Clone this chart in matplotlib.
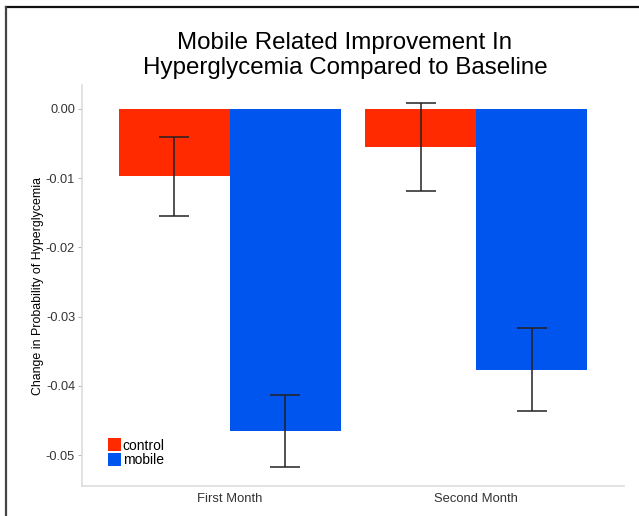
import numpy as np
import matplotlib
matplotlib.use("Agg")
import matplotlib.pyplot as plt
from matplotlib.patches import Patch
from matplotlib.lines import Line2D

plt.rcParams["font.family"] = ["Liberation Sans", "DejaVu Sans"]

# Data
months = ["First Month", "Second Month"]
groups = ["control", "mobile"]
control_mean = [-0.0097, -0.0055]
control_lo = [-0.0155, -0.0119]
control_hi = [-0.0040, 0.0009]
mobile_mean = [-0.0466, -0.0377]
mobile_lo = [-0.0518, -0.0436]
mobile_hi = [-0.0414, -0.0316]
yticks = [0.00, -0.01, -0.02, -0.03, -0.04, -0.05]

RED = "#ff2a00"
BLUE = "#0055ee"

fig = plt.figure(figsize=(6.39, 5.16), dpi=100)
ax = fig.add_axes([0.1283, 0.0581, 0.8482, 0.7772])

x = np.arange(1, len(months) + 1)
w = 0.45
series = [
    (control_mean, control_lo, control_hi, RED, -w / 2),
    (mobile_mean, mobile_lo, mobile_hi, BLUE, w / 2),
]
for mean, lo, hi, col, off in series:
    mean = np.array(mean)
    err = np.vstack([mean - np.array(lo), np.array(hi) - mean])
    ax.bar(x + off, mean, width=w, color=col, edgecolor="none", zorder=2)
    ax.errorbar(x + off, mean, yerr=err, fmt="none", ecolor="#222222",
                elinewidth=1.1, capsize=10.8, capthick=1.1, zorder=3)

ax.set_xlim(0.4, 2.6)
ax.set_ylim(-0.05448, 0.003468)
ax.set_xticks(x)
ax.set_xticklabels(months, fontsize=9.4, color="#333333")
ax.set_yticks(yticks)
ax.set_yticklabels([f"{v:.2f}" for v in yticks], fontsize=9.2, color="#333333")
ax.tick_params(axis="both", length=3, width=0.6, color="#aaaaaa", pad=2)
ax.tick_params(axis="x", length=0, pad=5)

for s in ["top", "right"]:
    ax.spines[s].set_visible(False)
for s in ["left", "bottom"]:
    ax.spines[s].set_color("#dddddd")
    ax.spines[s].set_linewidth(1.2)

ax.set_ylabel("Change in Probability of Hyperglycemia", fontsize=8.9,
              labelpad=1)

fig.text(0.54, 0.893, "Mobile Related Improvement In\n"
         "Hyperglycemia Compared to Baseline", ha="center", va="center",
         fontsize=17.4, linespacing=1.2)

handles = [Patch(facecolor=RED, label=groups[0]),
           Patch(facecolor=BLUE, label=groups[1])]
fig.legend(handles=handles, loc="lower left",
           bbox_to_anchor=(0.169, 0.094), frameon=False, fontsize=10,
           handlelength=0.95, handleheight=1.05, handletextpad=0.12,
           labelspacing=0.05, borderpad=0, borderaxespad=0)

# thin dark frame on the top and left of the image
fig.add_artist(Line2D([0.009, 1.0], [0.986, 0.986], color="#111111",
                      lw=1.6, transform=fig.transFigure))
fig.add_artist(Line2D([0.009, 0.009], [0.0, 0.986], color="#444444",
                      lw=1.6, transform=fig.transFigure))

fig.savefig("out.png", dpi=100)
